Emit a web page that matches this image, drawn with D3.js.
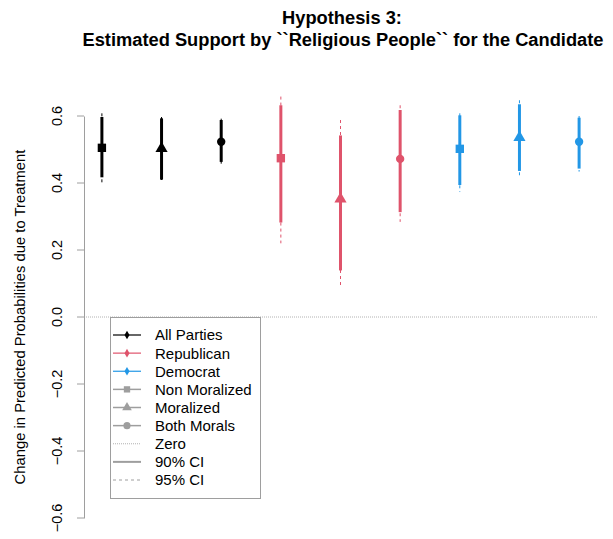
<!DOCTYPE html>
<html>
<head>
<meta charset="utf-8">
<script src="https://cdn.jsdelivr.net/npm/d3@7"></script>
<style>
  body { margin: 0; background: #fff; }
  svg { font-family: "Liberation Sans", Arial, sans-serif; }
</style>
</head>
<body>
<svg id="chart" width="613" height="539"></svg>
<script>
// groups in plotting order
const parties = ["All Parties", "All Parties", "All Parties",
                 "Republican", "Republican", "Republican",
                 "Democrat", "Democrat", "Democrat"];
const morals = ["Non Moralized", "Moralized", "Both Morals",
                "Non Moralized", "Moralized", "Both Morals",
                "Non Moralized", "Moralized", "Both Morals"];
const estimates = [0.505, 0.503, 0.523, 0.474, 0.352, 0.472, 0.502, 0.536, 0.523];
const ci90Low  = [0.417, 0.410, 0.463, 0.282, 0.139, 0.313, 0.394, 0.436, 0.443];
const ci90High = [0.597, 0.593, 0.588, 0.632, 0.542, 0.618, 0.602, 0.635, 0.595];
const ci95Low  = [0.398, 0.400, 0.449, 0.220, 0.095, 0.284, 0.373, 0.416, 0.434];
const ci95High = [0.608, 0.597, 0.592, 0.658, 0.588, 0.632, 0.608, 0.647, 0.600];
const yTicks = [-0.6, -0.4, -0.2, 0.0, 0.2, 0.4, 0.6];

const legendLabels = ["All Parties", "Republican", "Democrat", "Non Moralized",
                      "Moralized", "Both Morals", "Zero", "90% CI", "95% CI"];

const partyColor = {"All Parties": "#000000", "Republican": "#DF536B", "Democrat": "#2297E6"};
const moralShape = {"Non Moralized": d3.symbolSquare, "Moralized": d3.symbolTriangle, "Both Morals": d3.symbolCircle};
const shapeSize = {"Non Moralized": 70, "Moralized": 64, "Both Morals": 55};
const grey = "#9E9E9E";

const svg = d3.select("#chart");
const x = d3.scaleLinear().domain([0.7, 9.3]).range([84, 597]);
const y = d3.scaleLinear().domain([-0.6, 0.6]).range([518, 116]);

const data = estimates.map((e, i) => ({
    idx: i + 1, est: e, party: parties[i], moral: morals[i],
    l90: ci90Low[i], h90: ci90High[i], l95: ci95Low[i], h95: ci95High[i]
}));

// title
const title = svg.append("g").attr("font-weight", "bold").attr("font-size", 18.3)
    .attr("text-anchor", "middle");
title.append("text").attr("x", 342).attr("y", 24).text("Hypothesis 3:");
title.append("text").attr("x", 343).attr("y", 46).text("Estimated Support by ``Religious People`` for the Candidate");

// y axis (R style)
const yAxis = svg.append("g").attr("transform", "translate(84,0)")
    .call(d3.axisLeft(y).tickValues(yTicks).tickFormat(d3.format(".1f")).tickSize(7).tickSizeOuter(0));
yAxis.select(".domain").attr("stroke", grey);
yAxis.selectAll(".tick").attr("transform", "translate(0,0)")
    .each(function(d) {
        d3.select(this).select("line").attr("transform", `translate(0,${y(d)})`);
    });
yAxis.selectAll(".tick line").attr("stroke", grey);
yAxis.selectAll(".tick text")
    .attr("font-size", 14.5).attr("fill", "#000")
    .attr("font-family", "Liberation Sans, Arial, sans-serif")
    .attr("text-anchor", "middle")
    .attr("x", 0).attr("y", 0).attr("dy", "0.35em")
    .attr("transform", d => `translate(-27,${y(d)}) rotate(-90)`);

svg.append("text")
    .attr("transform", `translate(25,317) rotate(-90)`)
    .attr("text-anchor", "middle").attr("font-size", 14.8)
    .text("Change in Predicted Probabilities due to Treatment");

// zero line
svg.append("line")
    .attr("x1", 84).attr("x2", 597).attr("y1", y(0)).attr("y2", y(0))
    .attr("stroke", grey).attr("stroke-width", 0.8).attr("stroke-dasharray", "1,1");

// estimates
const g = svg.append("g");
const pts = g.selectAll("g.est").data(data).join("g").attr("class", "est");
pts.append("line")
    .attr("x1", d => x(d.idx)).attr("x2", d => x(d.idx))
    .attr("y1", d => y(d.h95)).attr("y2", d => y(d.l95))
    .attr("stroke", d => partyColor[d.party]).attr("stroke-width", 1)
    .attr("stroke-dasharray", "3,3");
pts.append("line")
    .attr("x1", d => x(d.idx)).attr("x2", d => x(d.idx))
    .attr("y1", d => y(d.h90)).attr("y2", d => y(d.l90))
    .attr("stroke", d => partyColor[d.party]).attr("stroke-width", 3);
pts.append("path")
    .attr("transform", d => `translate(${x(d.idx)},${y(d.est)})`)
    .attr("d", d => d3.symbol(moralShape[d.moral], shapeSize[d.moral])())
    .attr("fill", d => partyColor[d.party]);

// legend
const leg = svg.append("g");
leg.append("rect").attr("x", 110.5).attr("y", 317.5).attr("width", 150).attr("height", 181)
    .attr("fill", "#fff").attr("stroke", grey).attr("stroke-width", 1);
const legColors = ["#000000", "#DF536B", "#2297E6", grey, grey, grey, grey, grey, grey];
const legShapes = [d3.symbolDiamond, d3.symbolDiamond, d3.symbolDiamond,
                   d3.symbolSquare, d3.symbolTriangle, d3.symbolCircle, null, null, null];
const legDash = [null, null, null, null, null, null, "1,1", null, "3,3"];
const legWidth = [1.2, 1.2, 1.2, 1.5, 1.5, 1.5, 0.8, 2, 1];
const ly = d3.scalePoint().domain(legendLabels).range([335, 480]);
const items = leg.selectAll("g.item").data(legendLabels).join("g").attr("class", "item")
    .attr("transform", d => `translate(0,${ly(d)})`);
items.append("line").attr("x1", 113).attr("x2", 141)
    .attr("stroke", (d, i) => legColors[i])
    .attr("stroke-width", (d, i) => legWidth[i])
    .attr("stroke-dasharray", (d, i) => legDash[i]);
items.filter((d, i) => legShapes[i] !== null).append("path")
    .attr("transform", "translate(127,0)")
    .attr("d", (d, i) => d3.symbol(legShapes[i], i < 3 ? 22 : 40)())
    .attr("fill", (d, i) => legColors[i]);
items.append("text").attr("x", 155).attr("dy", "0.36em")
    .attr("font-size", 15).text(d => d);
</script>
</body>
</html>
